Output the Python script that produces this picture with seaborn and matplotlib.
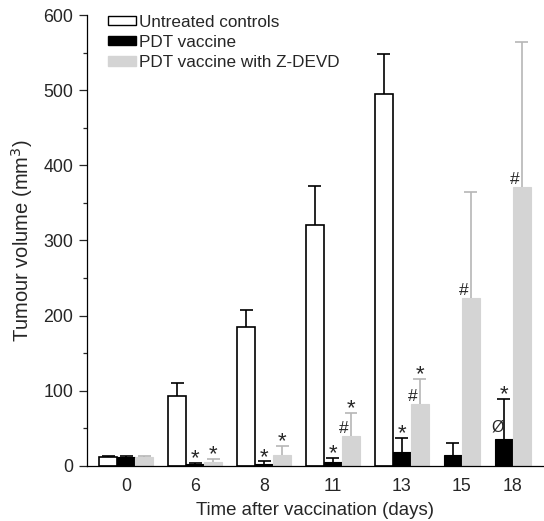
"""
Tumour volume after vaccination, grouped bars with upper error bars
"""

import numpy as np
import pandas as pd
import matplotlib
matplotlib.use("Agg")
import matplotlib.pyplot as plt
import seaborn as sns
from matplotlib.patches import Patch
from matplotlib.ticker import MultipleLocator

# Data
days = ["0", "6", "8", "11", "13", "15", "18"]
series = ["Untreated controls", "PDT vaccine", "PDT vaccine with Z-DEVD"]

untreated_mean = [12, 93, 185, 320, 495, None, None]
untreated_err = [1, 18, 23, 52, 53, None, None]
pdt_mean = [12, 3, 2, 5, 18, 15, 36]
pdt_err = [1, 1, 4, 6, 19, 15, 53]
zdevd_mean = [12, 5, 15, 40, 83, 223, 371]
zdevd_err = [1, 4, 12, 30, 33, 141, 193]

# significance marks
pdt_star = [False, True, True, True, True, False, True]
pdt_phi = [False, False, False, False, False, False, True]
zdevd_star = [False, True, True, True, True, False, False]
zdevd_hash = [False, False, False, True, True, True, True]

colors = {"Untreated controls": "white",
          "PDT vaccine": "black",
          "PDT vaccine with Z-DEVD": "#d4d4d4"}
edges = {"Untreated controls": "black",
         "PDT vaccine": "black",
         "PDT vaccine with Z-DEVD": "#d4d4d4"}
err_colors = {"Untreated controls": "black",
              "PDT vaccine": "black",
              "PDT vaccine with Z-DEVD": "#b6b6b6"}

# Build bar table: bars of a day sit side by side, groups separated by a gap
GAP = 0.83
means = [untreated_mean, pdt_mean, zdevd_mean]
errs = [untreated_err, pdt_err, zdevd_err]
rows = []
centers = []
cursor = 0.0
for i, day in enumerate(days):
    start = cursor
    for s, name in enumerate(series):
        if means[s][i] is None:
            continue
        rows.append({"pos": cursor, "value": means[s][i], "err": errs[s][i],
                     "series": name, "day": day, "idx": i})
        cursor += 1.0
    centers.append((start + cursor - 1.0) / 2)
    cursor += GAP
df = pd.DataFrame(rows)

sns.set_style("ticks")
plt.rcParams["font.family"] = ["Liberation Sans", "DejaVu Sans"]

fig = plt.figure(figsize=(5.44, 5.21), dpi=100)
ax = fig.add_axes([0.16, 0.1056, 0.838, 0.8656])

sns.barplot(data=df, x="pos", y="value", hue="series", hue_order=series,
            palette=colors, native_scale=True, dodge=False, width=1.0,
            errorbar=None, legend=False, saturation=1, ax=ax)

for cont, name in zip(ax.containers, series):
    for bar in cont:
        bar.set_edgecolor(edges[name])
        bar.set_linewidth(1.2 if name == "Untreated controls" else 0.8)

# upper error bars
for name in series:
    sub = df[df["series"] == name]
    tops = sub["value"] + sub["err"]
    ax.vlines(sub["pos"], sub["value"], tops, color=err_colors[name], lw=1.2, zorder=3)
    ax.hlines(tops, sub["pos"] - 0.36, sub["pos"] + 0.36, color=err_colors[name],
              lw=1.2, zorder=3)

# significance marks
for _, r in df.iterrows():
    i = r["idx"]
    top = r["value"] + r["err"]
    if r["series"] == "PDT vaccine":
        if pdt_star[i]:
            ax.annotate("*", (r["pos"], top), xytext=(0, -4.5), textcoords="offset points",
                        ha="center", va="bottom", fontsize=16)
        if pdt_phi[i]:
            ax.annotate("Ø", (r["pos"] - 0.33, r["value"]), xytext=(0, 3),
                        textcoords="offset points", ha="center", va="bottom", fontsize=11.5)
    elif r["series"] == "PDT vaccine with Z-DEVD":
        if zdevd_star[i]:
            ax.annotate("*", (r["pos"], top), xytext=(0, -4.5), textcoords="offset points",
                        ha="center", va="bottom", fontsize=16)
        if zdevd_hash[i]:
            ax.annotate("#", (r["pos"] - 0.38, r["value"]), xytext=(0, 0),
                        textcoords="offset points", ha="center", va="bottom", fontsize=12.5)

ax.set_xlim(-1.17, cursor - GAP - 0.5 + 0.67)
ax.set_ylim(0, 600)
ax.set_xticks(centers)
ax.set_xticklabels(days)
ax.yaxis.set_major_locator(MultipleLocator(100))
ax.yaxis.set_minor_locator(MultipleLocator(50))
ax.tick_params(axis="x", length=0, pad=8.5, labelsize=12.8)
ax.tick_params(axis="y", which="major", length=5.8, width=0.9, pad=4, labelsize=12.8,
               direction="out")
ax.tick_params(axis="y", which="minor", length=2.9, width=0.9, direction="out")
for sp in ["top", "right"]:
    ax.spines[sp].set_visible(False)
for sp in ["left", "bottom"]:
    ax.spines[sp].set_linewidth(0.9)
    ax.spines[sp].set_color("black")

ax.set_xlabel("Time after vaccination (days)", fontsize=13.4, labelpad=5)
ax.set_ylabel("Tumour volume (mm$^3$)", fontsize=14.5, labelpad=6)

handles = [Patch(facecolor=colors[n], edgecolor=edges[n], linewidth=1.0) for n in series]
ax.legend(handles=handles, labels=series, loc="upper left", bbox_to_anchor=(0.046, 1.001),
          frameon=False, fontsize=12.3, handlelength=1.64, handleheight=0.5,
          labelspacing=0.3, handletextpad=0.2, borderaxespad=0, borderpad=0)

fig.savefig("out.png", dpi=100)
